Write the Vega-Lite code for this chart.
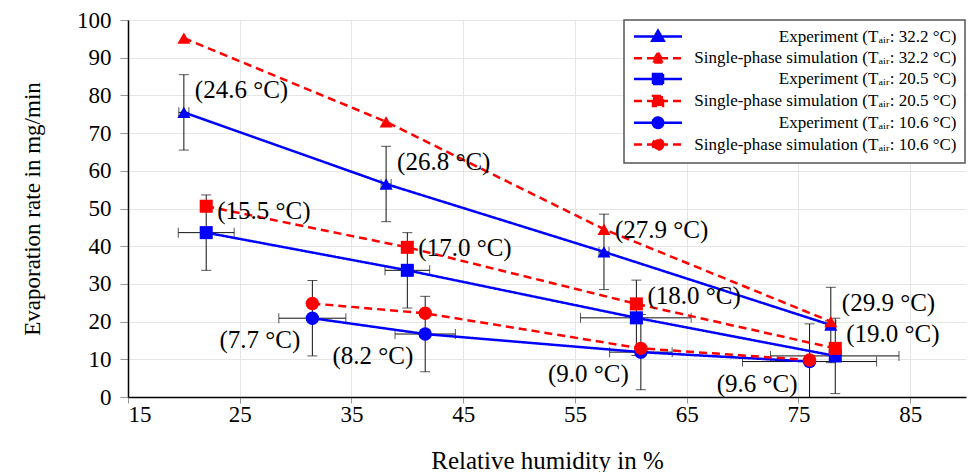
{
  "$schema": "https://vega.github.io/schema/vega-lite/v6.json",
  "width": 838,
  "height": 377,
  "autosize": {"type": "none"},
  "padding": {"left": 128, "top": 20, "right": 7, "bottom": 75},
  "background": "white",
  "config": {
    "font": "'Liberation Serif', 'Times New Roman', serif",
    "view": {"stroke": null},
    "axis": {
      "labelFont": "'Liberation Serif', 'Times New Roman', serif",
      "labelFontSize": 23,
      "labelColor": "#000000",
      "labelOverlap": false,
      "titleFont": "'Liberation Serif', 'Times New Roman', serif",
      "titleFontWeight": "normal",
      "titleColor": "#000000",
      "domainColor": "#000000",
      "domainWidth": 1.5,
      "tickColor": "#999999",
      "gridColor": "#e6e6e6",
      "gridWidth": 1
    },
    "legend": {
      "orient": "none",
      "legendX": 496,
      "legendY": 0,
      "padding": 8,
      "strokeColor": "#555555",
      "strokeWidth": 1.5,
      "fillColor": "#ffffff",
      "labelFont": "'Liberation Serif', 'Times New Roman', serif",
      "labelFontSize": 17,
      "labelColor": "#000000",
      "labelLimit": 400,
      "labelAlign": "right",
      "labelOffset": 290,
      "symbolOffset": 17.5,
      "symbolSize": 100,
      "symbolStrokeWidth": 2.5,
      "rowPadding": 0.8
    }
  },
  "datasets": {
    "pts": [
      {"series": "Experiment (Tₐᵢᵣ: 32.2 °C)", "grp": "T32", "kind": "exp", "rh": 20.0, "rate": 75.5, "rhlo": 19.55, "rhhi": 20.45, "ratelo": 65.5, "ratehi": 85.5, "label": "(24.6 °C)"},
      {"series": "Experiment (Tₐᵢᵣ: 32.2 °C)", "grp": "T32", "kind": "exp", "rh": 38.1, "rate": 56.5, "rhlo": 37.65, "rhhi": 38.55, "ratelo": 46.5, "ratehi": 66.5, "label": "(26.8 °C)"},
      {"series": "Experiment (Tₐᵢᵣ: 32.2 °C)", "grp": "T32", "kind": "exp", "rh": 57.6, "rate": 38.5, "rhlo": 57.15, "rhhi": 58.05, "ratelo": 28.5, "ratehi": 48.5, "label": "(27.9 °C)"},
      {"series": "Experiment (Tₐᵢᵣ: 32.2 °C)", "grp": "T32", "kind": "exp", "rh": 77.9, "rate": 19.1, "rhlo": 77.45, "rhhi": 78.35, "ratelo": 9.1, "ratehi": 29.1, "label": "(29.9 °C)"},
      {"series": "Single-phase simulation (Tₐᵢᵣ: 32.2 °C)", "grp": "T32", "kind": "sim", "rh": 20.0, "rate": 95.2},
      {"series": "Single-phase simulation (Tₐᵢᵣ: 32.2 °C)", "grp": "T32", "kind": "sim", "rh": 38.1, "rate": 73.0},
      {"series": "Single-phase simulation (Tₐᵢᵣ: 32.2 °C)", "grp": "T32", "kind": "sim", "rh": 57.6, "rate": 44.5},
      {"series": "Single-phase simulation (Tₐᵢᵣ: 32.2 °C)", "grp": "T32", "kind": "sim", "rh": 77.9, "rate": 20.0},
      {"series": "Experiment (Tₐᵢᵣ: 20.5 °C)", "grp": "T20", "kind": "exp", "rh": 22.0, "rate": 43.6, "rhlo": 19.5, "rhhi": 24.5, "ratelo": 33.6, "ratehi": 53.6, "label": "(15.5 °C)"},
      {"series": "Experiment (Tₐᵢᵣ: 20.5 °C)", "grp": "T20", "kind": "exp", "rh": 40.0, "rate": 33.6, "rhlo": 38.0, "rhhi": 42.0, "ratelo": 23.6, "ratehi": 43.6, "label": "(17.0 °C)"},
      {"series": "Experiment (Tₐᵢᵣ: 20.5 °C)", "grp": "T20", "kind": "exp", "rh": 60.5, "rate": 21.0, "rhlo": 55.5, "rhhi": 65.4, "ratelo": 11.0, "ratehi": 31.0, "label": "(18.0 °C)"},
      {"series": "Experiment (Tₐᵢᵣ: 20.5 °C)", "grp": "T20", "kind": "exp", "rh": 78.3, "rate": 10.9, "rhlo": 72.5, "rhhi": 84.0, "ratelo": 0.9, "ratehi": 20.9, "label": "(19.0 °C)"},
      {"series": "Single-phase simulation (Tₐᵢᵣ: 20.5 °C)", "grp": "T20", "kind": "sim", "rh": 22.0, "rate": 50.6},
      {"series": "Single-phase simulation (Tₐᵢᵣ: 20.5 °C)", "grp": "T20", "kind": "sim", "rh": 40.0, "rate": 39.7},
      {"series": "Single-phase simulation (Tₐᵢᵣ: 20.5 °C)", "grp": "T20", "kind": "sim", "rh": 60.5, "rate": 24.7},
      {"series": "Single-phase simulation (Tₐᵢᵣ: 20.5 °C)", "grp": "T20", "kind": "sim", "rh": 78.3, "rate": 12.9},
      {"series": "Experiment (Tₐᵢᵣ: 10.6 °C)", "grp": "T10", "kind": "exp", "rh": 31.5, "rate": 20.9, "rhlo": 28.5, "rhhi": 34.5, "ratelo": 10.9, "ratehi": 30.9, "label": "(7.7 °C)"},
      {"series": "Experiment (Tₐᵢᵣ: 10.6 °C)", "grp": "T10", "kind": "exp", "rh": 41.6, "rate": 16.7, "rhlo": 38.9, "rhhi": 44.3, "ratelo": 6.7, "ratehi": 26.7, "label": "(8.2 °C)"},
      {"series": "Experiment (Tₐᵢᵣ: 10.6 °C)", "grp": "T10", "kind": "exp", "rh": 60.9, "rate": 11.9, "rhlo": 58.1, "rhhi": 63.7, "ratelo": 1.9, "ratehi": 21.9, "label": "(9.0 °C)"},
      {"series": "Experiment (Tₐᵢᵣ: 10.6 °C)", "grp": "T10", "kind": "exp", "rh": 76.0, "rate": 9.4, "rhlo": 70.0, "rhhi": 82.0, "ratelo": -0.6, "ratehi": 19.4, "label": "(9.6 °C)"},
      {"series": "Single-phase simulation (Tₐᵢᵣ: 10.6 °C)", "grp": "T10", "kind": "sim", "rh": 31.5, "rate": 24.8},
      {"series": "Single-phase simulation (Tₐᵢᵣ: 10.6 °C)", "grp": "T10", "kind": "sim", "rh": 41.6, "rate": 22.2},
      {"series": "Single-phase simulation (Tₐᵢᵣ: 10.6 °C)", "grp": "T10", "kind": "sim", "rh": 60.9, "rate": 12.9},
      {"series": "Single-phase simulation (Tₐᵢᵣ: 10.6 °C)", "grp": "T10", "kind": "sim", "rh": 76.0, "rate": 9.8}
    ]
  },
  "data": {"name": "pts"},
  "encoding": {
    "x": {
      "field": "rh", "type": "quantitative", "title": "Relative humidity in %",
      "scale": {"domain": [15, 90], "nice": false, "zero": false},
      "axis": {"values": [15, 25, 35, 45, 55, 65, 75, 85], "tickSize": 6, "labelPadding": 0, "labelOverlap": false, "titleFontSize": 25, "titlePadding": 22, "grid": true}
    },
    "y": {
      "field": "rate", "type": "quantitative", "title": "Evaporation rate in mg/min",
      "scale": {"domain": [0, 100], "nice": false},
      "axis": {"values": [0, 10, 20, 30, 40, 50, 60, 70, 80, 90, 100], "tickCount": 11, "tickSize": 8, "labelPadding": 9, "labelOverlap": false, "titleFontSize": 23, "titlePadding": 32, "grid": true}
    }
  },
  "layer": [
    {
      "transform": [{"filter": "datum.kind === 'exp'"}],
      "mark": {"type": "errorbar", "ticks": true, "size": 10, "thickness": 1, "color": "#111111", "clip": true},
      "encoding": {
        "y": {
          "field": "ratelo", "type": "quantitative", "title": "Evaporation rate in mg/min",
          "scale": {"domain": [0, 100], "nice": false},
          "axis": {"values": [0, 10, 20, 30, 40, 50, 60, 70, 80, 90, 100], "tickCount": 11, "tickSize": 8, "labelPadding": 9, "labelOverlap": false, "titleFontSize": 23, "titlePadding": 32, "grid": true}
        },
        "y2": {"field": "ratehi"}
      }
    },
    {
      "transform": [{"filter": "datum.kind === 'exp'"}],
      "mark": {"type": "errorbar", "ticks": true, "size": 10, "thickness": 1, "color": "#111111", "clip": true},
      "encoding": {
        "x": {
          "field": "rhlo", "type": "quantitative", "title": "Relative humidity in %",
          "scale": {"domain": [15, 90], "nice": false, "zero": false},
          "axis": {"values": [15, 25, 35, 45, 55, 65, 75, 85], "tickSize": 6, "labelPadding": 0, "labelOverlap": false, "titleFontSize": 25, "titlePadding": 22, "grid": true}
        },
        "x2": {"field": "rhhi"}
      }
    },
    {
      "mark": {"type": "line", "strokeWidth": 2.5},
      "encoding": {
        "color": {
          "field": "series", "type": "nominal", "title": null,
          "scale": {
            "domain": ["Experiment (Tₐᵢᵣ: 32.2 °C)", "Single-phase simulation (Tₐᵢᵣ: 32.2 °C)", "Experiment (Tₐᵢᵣ: 20.5 °C)", "Single-phase simulation (Tₐᵢᵣ: 20.5 °C)", "Experiment (Tₐᵢᵣ: 10.6 °C)", "Single-phase simulation (Tₐᵢᵣ: 10.6 °C)"],
            "range": ["#0000ff", "#ff0000", "#0000ff", "#ff0000", "#0000ff", "#ff0000"]
          }
        },
        "strokeDash": {
          "field": "series", "type": "nominal", "title": null,
          "scale": {
            "domain": ["Experiment (Tₐᵢᵣ: 32.2 °C)", "Single-phase simulation (Tₐᵢᵣ: 32.2 °C)", "Experiment (Tₐᵢᵣ: 20.5 °C)", "Single-phase simulation (Tₐᵢᵣ: 20.5 °C)", "Experiment (Tₐᵢᵣ: 10.6 °C)", "Single-phase simulation (Tₐᵢᵣ: 10.6 °C)"],
            "range": [[1, 0], [8, 5], [1, 0], [8, 5], [1, 0], [8, 5]]
          }
        }
      }
    },
    {
      "transform": [{"filter": "datum.grp === 'T32'"}],
      "mark": {"type": "point", "filled": true, "shape": "triangle-up", "size": 170, "opacity": 1},
      "encoding": {
        "color": {"field": "series", "type": "nominal", "title": null}
      }
    },
    {
      "transform": [{"filter": "datum.grp === 'T20'"}],
      "mark": {"type": "point", "filled": true, "shape": "square", "size": 170, "opacity": 1},
      "encoding": {
        "color": {"field": "series", "type": "nominal", "title": null}
      }
    },
    {
      "transform": [{"filter": "datum.grp === 'T10'"}],
      "mark": {"type": "point", "filled": true, "shape": "circle", "size": 180, "opacity": 1},
      "encoding": {
        "color": {"field": "series", "type": "nominal", "title": null}
      }
    },
    {
      "transform": [{"filter": "datum.kind === 'exp' && datum.grp !== 'T10'"}],
      "mark": {"type": "text", "font": "'Liberation Serif', 'Times New Roman', serif", "fontSize": 25, "align": "left", "baseline": "middle", "dx": 11, "dy": -22, "color": "#000000"},
      "encoding": {
        "text": {"field": "label"}
      }
    },
    {
      "transform": [{"filter": "datum.kind === 'exp' && datum.grp === 'T10'"}],
      "mark": {"type": "text", "font": "'Liberation Serif', 'Times New Roman', serif", "fontSize": 25, "align": "right", "baseline": "middle", "dx": -12, "dy": 22, "color": "#000000"},
      "encoding": {
        "text": {"field": "label"}
      }
    },
    {
      "transform": [{"filter": "false"}],
      "mark": {"type": "point", "filled": true, "opacity": 1, "strokeWidth": 2.5},
      "encoding": {
        "color": {"field": "series", "type": "nominal", "title": null},
        "strokeDash": {"field": "series", "type": "nominal", "title": null},
        "shape": {
          "field": "series", "type": "nominal", "title": null,
          "scale": {
            "domain": ["Experiment (Tₐᵢᵣ: 32.2 °C)", "Single-phase simulation (Tₐᵢᵣ: 32.2 °C)", "Experiment (Tₐᵢᵣ: 20.5 °C)", "Single-phase simulation (Tₐᵢᵣ: 20.5 °C)", "Experiment (Tₐᵢᵣ: 10.6 °C)", "Single-phase simulation (Tₐᵢᵣ: 10.6 °C)"],
            "range": [
              "M-4.8,0H4.8M0,-1.15L1.15,0.85L-1.15,0.85Z",
              "M-4.8,0H4.8M0,-1.15L1.15,0.85L-1.15,0.85Z",
              "M-4.8,0H4.8M-1,-1H1V1H-1Z",
              "M-4.8,0H4.8M-1,-1H1V1H-1Z",
              "M-4.8,0H4.8M1.05,0A1.05,1.05,0,1,1,-1.05,0A1.05,1.05,0,1,1,1.05,0Z",
              "M-4.8,0H4.8M1.05,0A1.05,1.05,0,1,1,-1.05,0A1.05,1.05,0,1,1,1.05,0Z"
            ]
          }
        }
      }
    }
  ]
}
